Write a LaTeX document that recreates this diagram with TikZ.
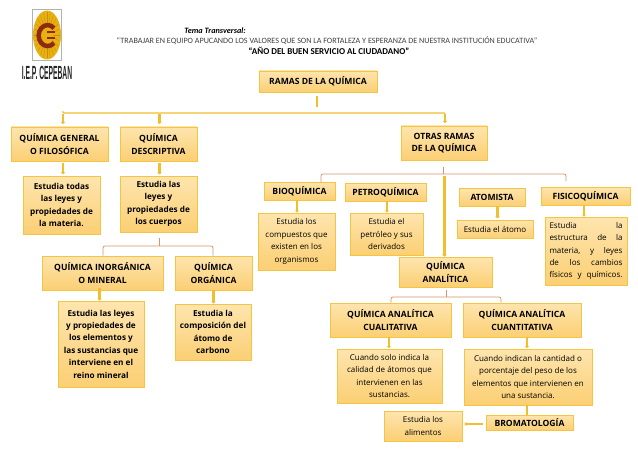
\documentclass[tikz,border=0pt]{standalone}
\usepackage{fontspec}
\setmainfont{Open Sans}
\newfontfamily\hdfont{Carlito}
\newfontfamily\logofont{Liberation Sans}
\usetikzlibrary{arrows.meta,calc}
\definecolor{boxedge}{HTML}{F4C443}
\definecolor{boxtop}{HTML}{FEE5AE}
\definecolor{boxbot}{HTML}{FBCF74}
\definecolor{stemc}{HTML}{F0BE2E}
\definecolor{brk}{HTML}{D9956A}
\definecolor{logogold}{HTML}{E8B010}
\definecolor{logodark}{HTML}{C89008}
\definecolor{logored}{HTML}{8E2A12}
\tikzset{
  x=1pt,y=-1pt,
  cbox/.style={draw=boxedge,line width=0.9pt,top color=boxtop,bottom color=boxbot,inner sep=0pt,align=center,text=black},
  head/.style={cbox,font=\fontsize{8.6}{12.2}\selectfont\bfseries},
  desc/.style={cbox,font=\fontsize{8.2}{12.4}\selectfont\bfseries},
  ldesc/.style={cbox,font=\fontsize{8}{12.4}\selectfont},
  stem/.style={draw=stemc,line width=2.4pt,-{Triangle[length=2pt,width=4.2pt]}},
  thickstem/.style={draw=stemc,line width=3pt,-{Triangle[length=2pt,width=5pt]}},
  rail/.style={draw=stemc,line width=1.1pt},
  brack/.style={draw=brk,line width=0.8pt,rounded corners=2pt},
  hdtext/.style={font=\hdfont\fontsize{#1}{#1}\selectfont,inner sep=0pt},
}
% name, x0, y0, x1, y1, style, text
\newcommand{\pbx}[7]{\node[#6,minimum width={#4-#2},minimum height={#5-#3}] (#1) at ({(#2+#4)/2},{(#3+#5)/2}) {#7};}
\begin{document}
\begin{tikzpicture}
\useasboundingbox (0,0) rectangle (638,452);
\fill[white] (0,0) rectangle (638,452);
% logo
\draw[black!30,line width=0.4pt] (32.5,9.5) rectangle (61.5,60);
\fill[logogold] (47,35) ellipse [x radius=14,y radius=24.5];
\foreach \a in {0,15,...,345}{\draw[logodark,line width=0.35pt] ($(47,35)+(\a:6 and 10)$) -- ($(47,35)+(\a:13 and 23)$);}
\draw[logored,line width=4.5pt] (54,43) arc [start angle=45,end angle=315,x radius=9,y radius=10.5];
\draw[logored,line width=1.2pt] (55,32) -- (47,32) (55,38) -- (47,38);
\node[font=\logofont\bfseries\fontsize{19}{19}\selectfont,xscale=0.355,transform shape,inner sep=0pt,text=black!85] (logoname) at (47,73) {I.E.P. CEPEBAN};
% header
\node[hdtext=8.2] (tema) at (215,31) {\bfseries\itshape Tema Transversal:};
\node[hdtext=8.1,text=black!75] (lema) at (327,41) {“TRABAJAR EN EQUIPO APUCANDO LOS VALORES QUE SON LA FORTALEZA Y ESPERANZA DE NUESTRA INSTITUCIÓN EDUCATIVA”};
\node[hdtext=9] (anio) at (329,51) {\bfseries “AÑO DEL BUEN SERVICIO AL CIUDADANO”};
% boxes
\pbx{root}{259}{71}{377}{92}{head}{RAMAS DE LA QUÍMICA}
\pbx{gen}{11}{127}{108}{161}{head}{QUÍMICA GENERAL\\O FILOSÓFICA}
\pbx{des}{120}{127}{197}{161}{head}{QUÍMICA\\DESCRIPTIVA}
\pbx{otr}{401}{126}{487}{160}{head}{OTRAS RAMAS\\DE LA QUÍMICA}
\pbx{gend}{23}{176}{100}{234}{desc}{Estudia todas\\las leyes y\\propiedades de\\la materia.}
\pbx{desd}{120}{176}{197}{232}{desc}{Estudia las\\leyes y\\propiedades de\\los cuerpos}
\pbx{ino}{42}{256}{163}{290}{head}{QUÍMICA INORGÁNICA\\O MINERAL}
\pbx{org}{175}{256}{252}{290}{head}{QUÍMICA\\ORGÁNICA}
\pbx{inod}{58}{301}{144}{387}{desc}{Estudia las leyes\\y propiedades de\\los elementos y\\las sustancias que\\interviene en el\\reino mineral}
\pbx{orgd}{175}{304}{251}{360}{desc}{Estudia la\\composición del\\átomo de\\carbono}
\pbx{bio}{264}{182}{335}{200}{head}{BIOQUÍMICA}
\pbx{pet}{345}{183}{426}{201}{head}{PETROQUÍMICA}
\pbx{ato}{459}{188}{525}{206}{head}{ATOMISTA}
\pbx{fis}{541}{187}{630}{205}{head}{FISICOQUÍMICA}
\pbx{biod}{258}{213}{335}{270}{ldesc}{Estudia los\\compuestos que\\existen en los\\organismos}
\pbx{petd}{350}{213}{423}{255}{ldesc}{Estudia el\\petróleo y sus\\derivados}
\pbx{atod}{457}{220}{533}{238.5}{ldesc}{Estudia el átomo}
\pbx{fisd}{545}{217}{627}{285}{ldesc}{\makebox[73pt][s]{Estudia\hfill la}\\\makebox[73pt][s]{estructura\hfill de\hfill la}\\\makebox[73pt][s]{materia,\hfill y\hfill leyes}\\\makebox[73pt][s]{de\hfill los\hfill cambios}\\\makebox[73pt][s]{físicos y químicos.}}
\pbx{ana}{399}{257}{492}{287}{head}{QUÍMICA\\ANALÍTICA}
\pbx{cua}{330}{303}{451}{337}{head}{QUÍMICA ANALÍTICA\\CUALITATIVA}
\pbx{cun}{463}{303}{581}{337}{head}{QUÍMICA ANALÍTICA\\CUANTITATIVA}
\pbx{cuad}{337}{349}{442}{403}{ldesc}{Cuando solo indica la\\calidad de átomos que\\intervienen en las\\sustancias.}
\pbx{cund}{464}{349}{592}{405}{ldesc}{Cuando indican la cantidad o\\porcentaje del peso de los\\elementos que intervienen en\\una sustancia.}
\pbx{bro}{486}{415}{573}{430}{head}{BROMATOLOGÍA}
\pbx{alid}{384}{411}{462}{441}{ldesc}{Estudia los\\alimentos}
% trunk
\coordinate (rootout) at ($(root.south)+(-1,4)$);
\coordinate (railL) at (63,113);
\coordinate (railR) at (445,113);
\draw[stemc,line width=2.4pt] (rootout) -- (317,107);
\draw[rail,rounded corners=1pt] (gen.north -| 63,0) ++(0,-14) -- (railL) -- (railR) -- ++(0,2);
\draw[stem] (63,114) -- (63,124);
\draw[stem] (159.5,114) -- (159.5,124);
\draw[stem] (445,114) -- (445,123);
% general and descriptive
\draw[stem] (gen.south -| 63,0) ++(0,2) -- ++(0,11);
\draw[stem] (des.south -| 159.5,0) ++(0,2) -- ++(0,11);
% bracket descriptive
\coordinate (bdes) at (159,246);
\draw[brack] (ino.north -| 103,0) -- (103,246) -- (213,246) -- (org.north -| 213,0);
\draw[brack] (159,238) -- (bdes);
\draw[stem] (99.5,288) -- (inod.north -| 99.5,0);
\draw[stem] (org.south -| 213.5,0) -- (orgd.north -| 213.5,0);
% bracket otras
\coordinate (both) at (443.5,174);
\draw[brack] (both) -- (443.5,167);
\draw[brack] (321,182) -- (321,174) -- (566,174) -- (566,181);
\draw[thickstem] (444.5,176) -- (ana.north -| 444.5,0);
\draw[stem] (bio.south -| 297,0) -- (biod.north -| 297,0);
\draw[stem] (pet.south -| 387,0) -- (petd.north -| 387,0);
\draw[stem] (ato.south -| 497.5,0) -- ++(0,12);
\draw[stem] (fis.south -| 584,0) -- (fisd.north -| 584,0);
% bracket analitica
\draw[brack] (446,290) -- (446,297);
\draw[brack] (cua.north -| 391,0) -- (391,297) -- (501,297) -- (cun.north -| 501,0);
\draw[stem] (cua.south -| 389,0) -- (389,348);
\draw[stem] (cun.south -| 527,0) -- (527,348);
\draw[stemc,line width=2.6pt] (cund.south -| 527,0) -- (bro.north -| 527,0);
\draw[stem] (bro.west |- 0,424) ++(-3,0) -- ($(alid.east |- 0,424)+(2,0)$);
\end{tikzpicture}
\end{document}
